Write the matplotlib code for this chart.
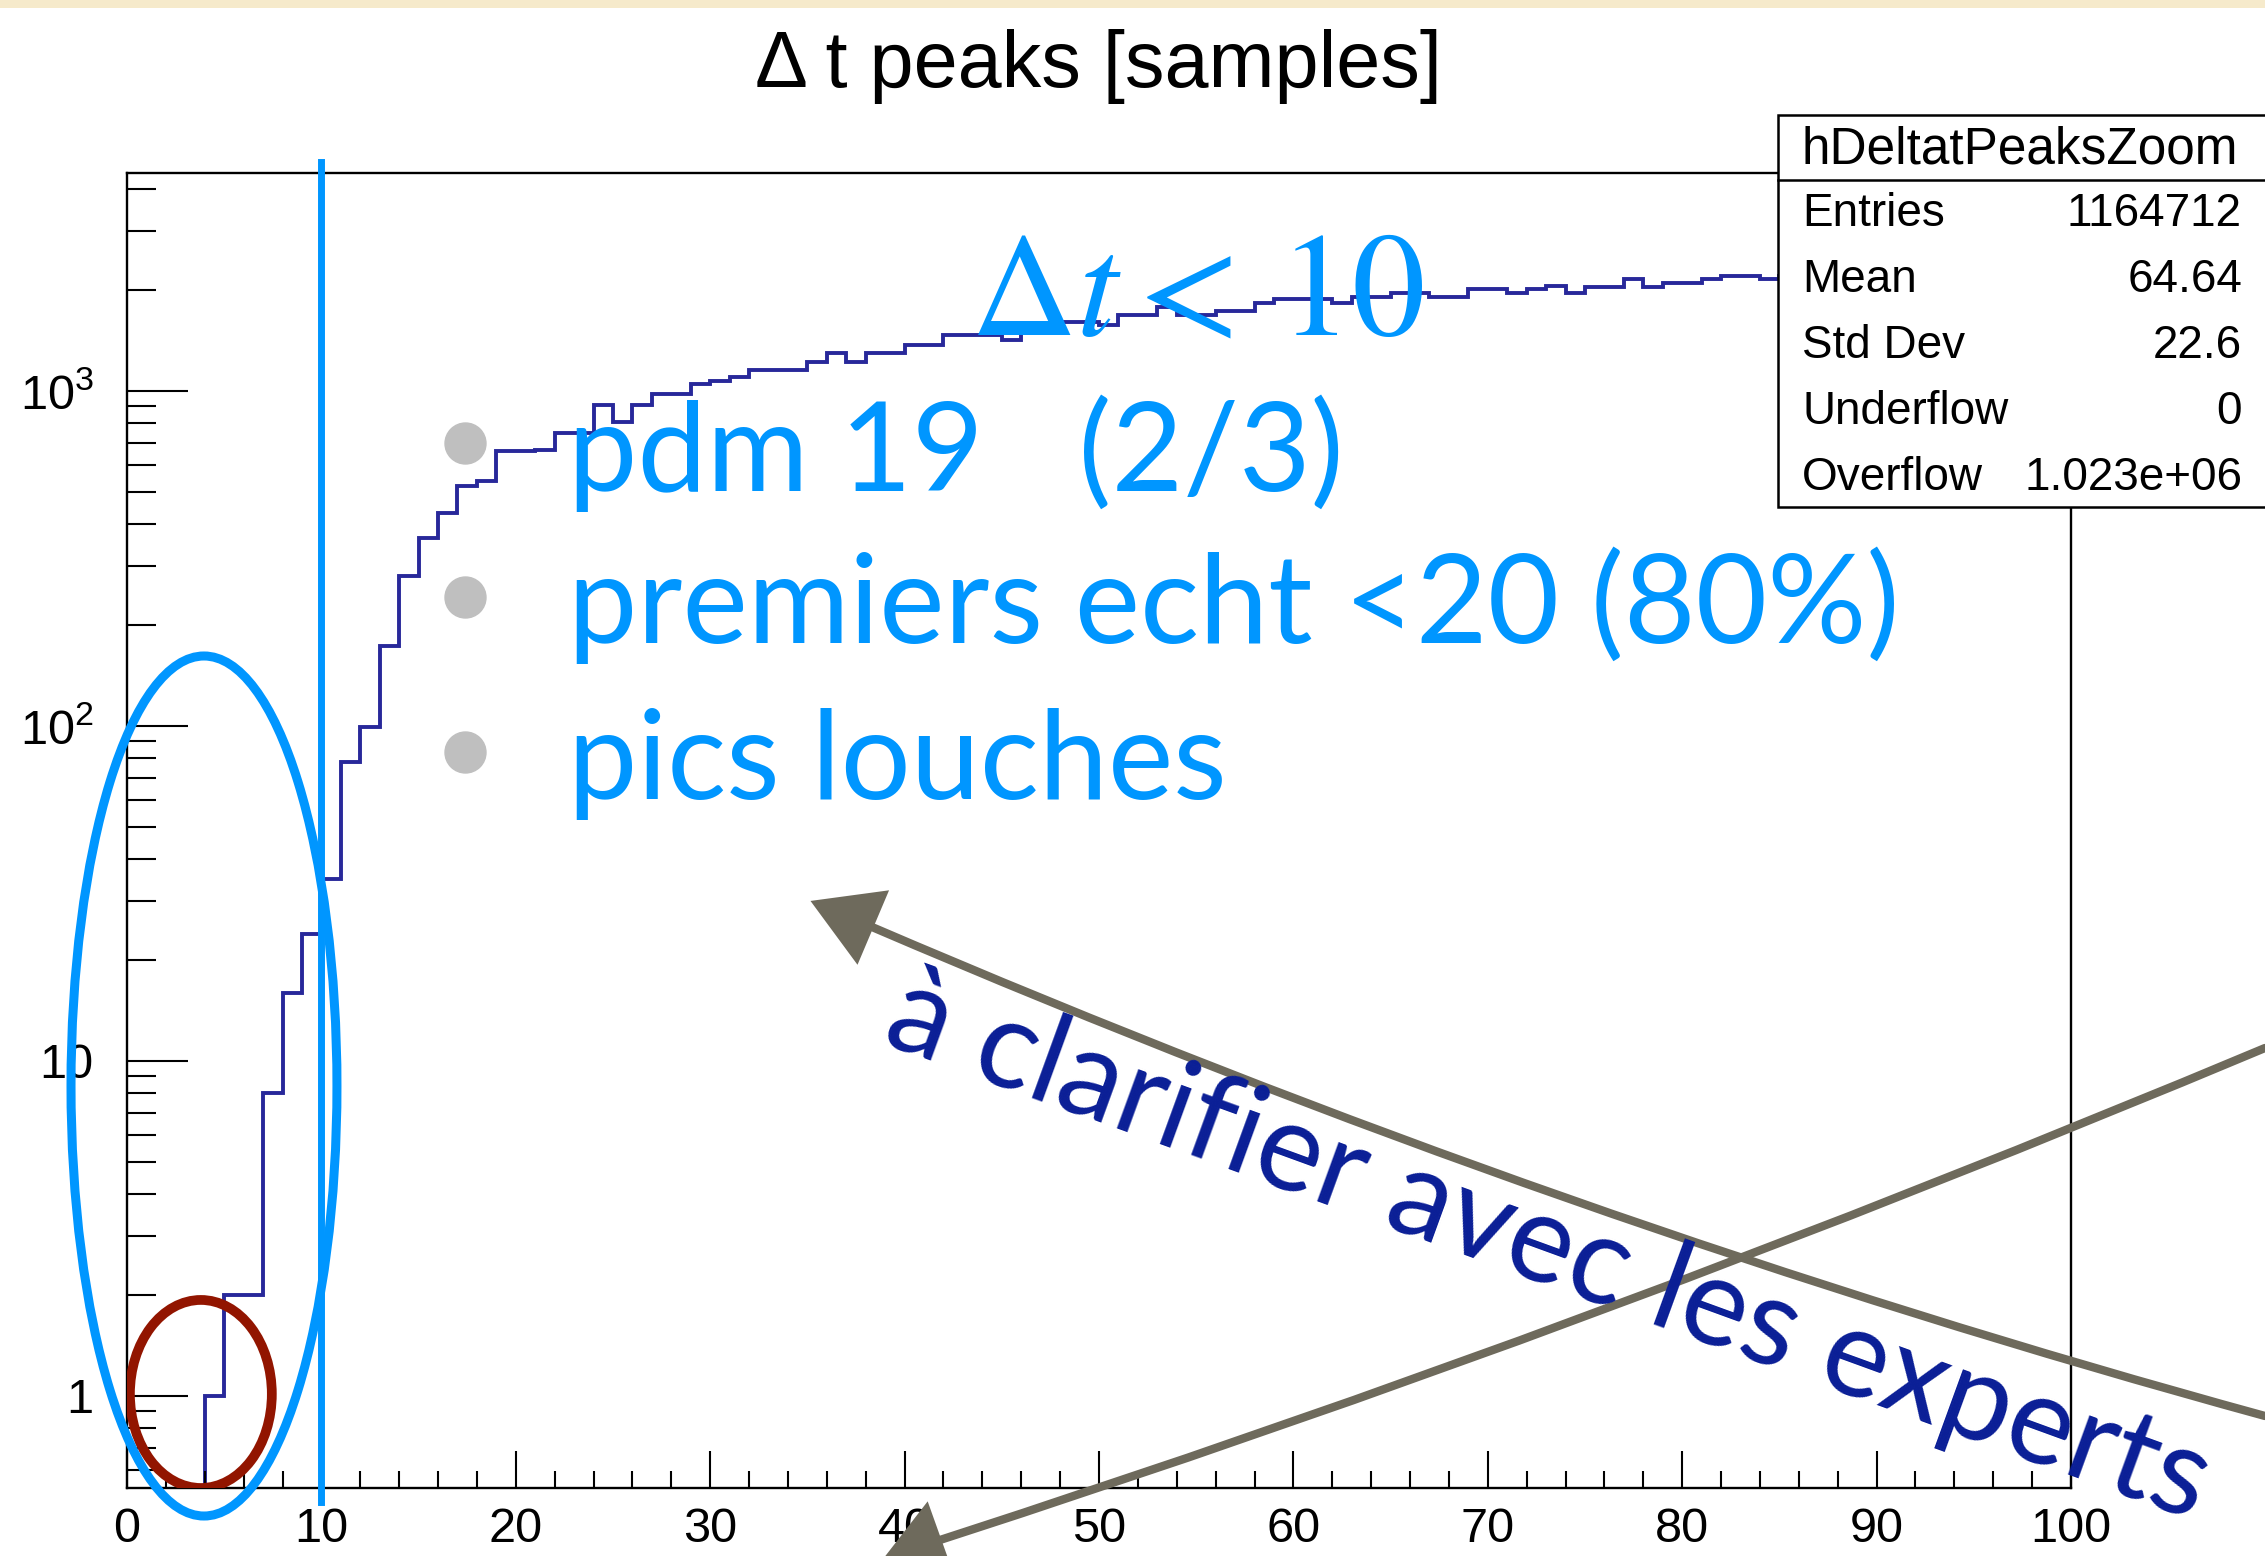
import numpy as np
import matplotlib
matplotlib.use("Agg")
import matplotlib.pyplot as plt
import matplotlib.transforms as mtransforms
from matplotlib.patches import Ellipse, Rectangle, Polygon, PathPatch
from matplotlib.path import Path
from matplotlib.lines import Line2D
from matplotlib.ticker import FixedLocator, FixedFormatter, NullFormatter

plt.rcParams['font.family'] = ['Liberation Sans', 'DejaVu Sans']
plt.rcParams['mathtext.fontset'] = 'custom'
plt.rcParams['mathtext.rm'] = 'Liberation Sans'
plt.rcParams['mathtext.it'] = 'Liberation Sans:italic'

# delta t between peaks, 1-sample bins from 0 to 100
bin_edges = np.arange(0, 101, 1)
counts = [0, 0, 0, 0, 1, 2, 2, 8, 16, 24,
          35, 78, 99, 173, 281, 363, 431, 521, 537, 663,
          663, 668, 749, 749, 906, 810, 906, 980, 980, 1049,
          1071, 1103, 1156, 1156, 1156, 1218, 1296, 1218, 1296, 1296,
          1372, 1372, 1469, 1469, 1469, 1420, 1556, 1556, 1611, 1611,
          1570, 1686, 1686, 1778, 1686, 1686, 1738, 1738, 1828, 1880,
          1880, 1880, 1836, 1914, 1914, 1959, 1959, 1914, 1914, 2012,
          2012, 1957, 2012, 2058, 1957, 2048, 2048, 2158, 2048, 2104,
          2104, 2158, 2207, 2207, 2158, 2200, 2250, 2230, 2280, 2260,
          2300, 2290, 2320, 2300, 2340, 2330, 2350, 2340, 2370, 2360]

hist_name = "hDeltatPeaksZoom"
stat_names = ["Entries", "Mean", "Std Dev", "Underflow", "Overflow"]
stat_values = ["1164712", "64.64", "22.6", "0", "1.023e+06"]

x_ticks = np.arange(0, 101, 10)
y_ticks = [1, 10, 100, 1000]
y_tick_labels = ["1", "10", r"$10^{2}$", r"$10^{3}$"]
dt_cut = 10

bullets = ["pdm 19   (2/3)", "premiers echt <20 (80%)", "pics louches"]
note = "à clarifier avec les experts"

BLUE = '#0096FF'
NAVY = '#0A1E96'
CHALK = '#6E6A5C'
HIST = '#28289A'

W, H = 2265, 1556
fig = plt.figure(figsize=(W / 100, H / 100), dpi=100)


def fx(x):
    return x / W


def fy(y):
    return 1 - y / H


# paper strip along the top edge
fig.add_artist(Rectangle((0, fy(8)), 1, 8 / H, transform=fig.transFigure,
                         facecolor='#F6EACB', edgecolor='none', zorder=0.5))

ax = fig.add_axes([fx(127), fy(1488), 1944 / W, 1315 / H])
ax.set_yscale('log', nonpositive='clip')
# empty bins drop below the frame, so the outline starts at the first filled bin
ax.stairs(counts, bin_edges, baseline=None, color=HIST, lw=2.8)
ax.set_xlim(0, 100)
ax.set_ylim(0.531, 4475)

ax.xaxis.set_major_locator(FixedLocator(x_ticks))
ax.xaxis.set_minor_locator(FixedLocator(np.arange(0, 101, 2)))
ax.yaxis.set_major_locator(FixedLocator(y_ticks))
ax.yaxis.set_major_formatter(FixedFormatter(y_tick_labels))
minor_y = [m * 10.0 ** e for e in range(-1, 4) for m in range(2, 10)]
ax.yaxis.set_minor_locator(FixedLocator(minor_y))
ax.yaxis.set_minor_formatter(NullFormatter())

ax.tick_params(axis='x', which='major', direction='in', length=27, width=1.5,
               labelsize=35, pad=14, top=False)
ax.tick_params(axis='x', which='minor', direction='in', length=12, width=1.5, top=False)
ax.tick_params(axis='y', which='major', direction='in', length=44, width=1.5,
               labelsize=35, pad=24, right=False)
ax.tick_params(axis='y', which='minor', direction='in', length=21, width=1.5, right=False)
for s in ax.spines.values():
    s.set_linewidth(1.7)
    s.set_zorder(3)

# cut line at dt = 10, running a bit past the frame
trans = mtransforms.blended_transform_factory(ax.transData, ax.transAxes)
ax.plot([dt_cut, dt_cut], [-0.0106, 1.0084], transform=trans, color=BLUE,
        lw=5, clip_on=False, zorder=4)

# circled regions
ax.add_patch(Ellipse((0.0396, 0.3057), 0.1368, 0.654, transform=ax.transAxes,
                     fill=False, edgecolor=BLUE, lw=6.5, clip_on=False, zorder=5))
ax.add_patch(Ellipse((0.038, 0.0715), 0.073, 0.143, transform=ax.transAxes,
                     fill=False, edgecolor='#921500', lw=7, zorder=4))

fig.text(fx(1098), fy(87), "Δ t peaks [samples]", ha='center', va='baseline',
         fontsize=57)

# stats box
box_l, box_t, box_r, box_b = 1778, 115, 2285, 507
fig.add_artist(Rectangle((fx(box_l), fy(box_b)), (box_r - box_l) / W,
                         (box_b - box_t) / H, transform=fig.transFigure,
                         facecolor='white', edgecolor='black', lw=1.8, zorder=2))
fig.add_artist(Line2D([fx(box_l), fx(box_r)], [fy(180), fy(180)],
                      transform=fig.transFigure, color='black', lw=1.8, zorder=2.1))
fig.text(fx(2020), fy(150), hist_name, ha='center', va='center', fontsize=37, zorder=3)
for i, (name, val) in enumerate(zip(stat_names, stat_values)):
    yy = fy(214 + 66 * i)
    fig.text(fx(1802), yy, name, ha='left', va='center', fontsize=33, zorder=3)
    fig.text(fx(2242), yy, val, ha='right', va='center', fontsize=33, zorder=3)

# cut annotation
fig.text(fx(970), fy(335), r'$\Delta t < \,10$', fontsize=106, color=BLUE,
         math_fontfamily='stix', va='baseline', ha='left', zorder=4)

# bullet list
for i, txt in enumerate(bullets):
    by = [443, 597, 752][i]
    base = [491, 643, 799][i]
    fig.add_artist(Line2D([fx(465)], [fy(by)], marker='o', markersize=29.5,
                          color='#BFBFBF', transform=fig.transFigure, zorder=4))
    fig.text(fx(568), fy(base), txt, fontsize=89, color=BLUE, family=['Lato', 'DejaVu Sans'],
             va='baseline', ha='left', zorder=4)

# chalk arrows
def chalk_arrow(p0, ctrl, base, tip, half):
    verts = [(fx(p0[0]), fy(p0[1])), (fx(ctrl[0]), fy(ctrl[1])), (fx(base[0]), fy(base[1]))]
    path = Path(verts, [Path.MOVETO, Path.CURVE3, Path.CURVE3])
    fig.add_artist(PathPatch(path, transform=fig.transFigure, fill=False,
                             edgecolor=CHALK, lw=6, capstyle='round', zorder=6))
    d = np.array(tip, float) - np.array(base, float)
    d /= np.hypot(*d)
    n = np.array([-d[1], d[0]])
    c1 = np.array(base) + half * n
    c2 = np.array(base) - half * n
    pts = [(fx(tip[0]), fy(tip[1])), (fx(c1[0]), fy(c1[1])), (fx(c2[0]), fy(c2[1]))]
    fig.add_artist(Polygon(pts, closed=True, transform=fig.transFigure,
                           facecolor=CHALK, edgecolor=CHALK, lw=2, zorder=6))


chalk_arrow((2265, 1416), (1566, 1225), (872, 927), (813, 902), 38)
chalk_arrow((2265, 1048), (1602, 1326), (940, 1540), (884, 1560), 38)

fig.text(fx(880), fy(1042), note, rotation=-20, rotation_mode='anchor',
         ha='left', va='baseline', fontsize=89, color=NAVY,
         family=['Lato', 'DejaVu Sans'], zorder=7)

fig.savefig('out.png', dpi=100)
